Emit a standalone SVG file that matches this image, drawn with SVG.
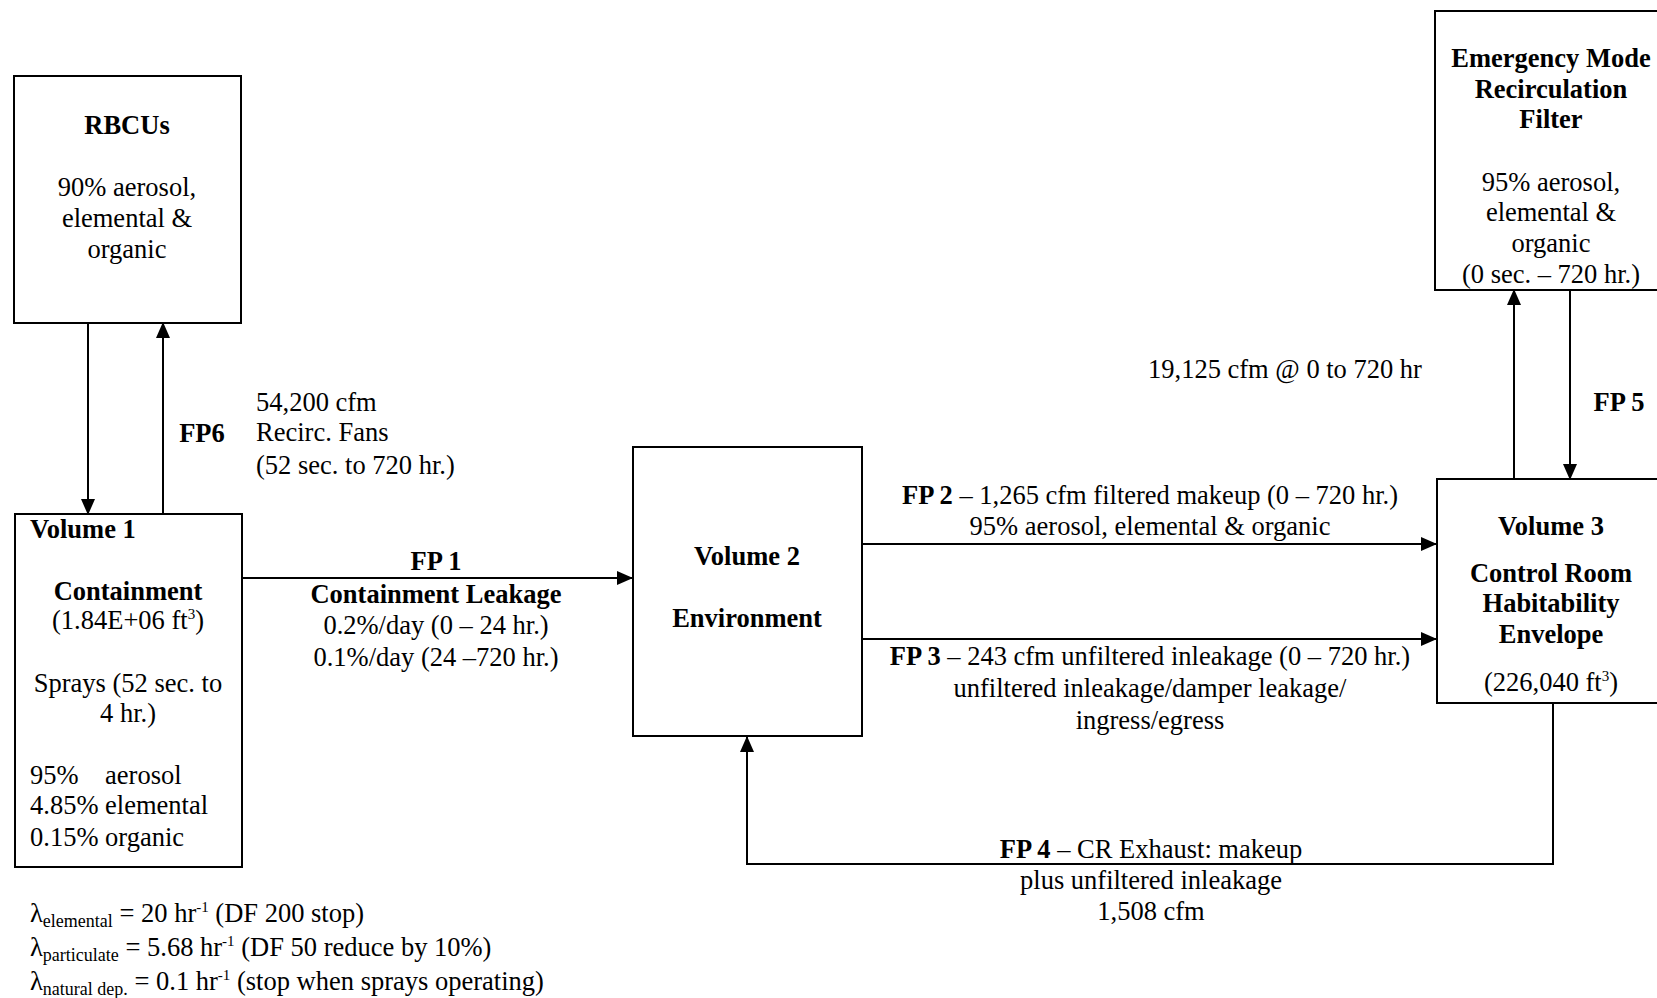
<svg xmlns="http://www.w3.org/2000/svg" width="1657" height="998" viewBox="0 0 1657 998">
<style>
text{font-family:"Liberation Serif","Times New Roman",serif;font-size:26.5px;fill:#000}
.b{font-weight:bold}
.c{text-anchor:middle}
.box{fill:none;stroke:#000;stroke-width:2}
.ln{fill:none;stroke:#000;stroke-width:2}
.sub{font-size:18px}
.sup{font-size:15px}
</style>
<defs>
<marker id="ah" markerWidth="16" markerHeight="14" refX="15" refY="7" orient="auto" markerUnits="userSpaceOnUse">
<path d="M0,0 L16,7 L0,14 Z" fill="#000"/>
</marker>
</defs>
<rect width="1657" height="998" fill="#fff"/>

<g id="rbcus">
<rect class="box" x="14" y="76" width="227" height="247"/>
<text class="b c" x="127" y="134">RBCUs</text>
<text class="c" x="127" y="196">90% aerosol,</text>
<text class="c" x="127" y="227">elemental &amp;</text>
<text class="c" x="127" y="258">organic</text>
</g>

<g id="volume1">
<rect class="box" x="15" y="514" width="227" height="353"/>
<text class="b" x="30" y="538">Volume 1</text>
<text class="b c" x="128" y="600">Containment</text>
<text class="c" x="128" y="629">(1.84E+06 ft<tspan class="sup" dy="-10">3</tspan><tspan dy="10">)</tspan></text>
<text class="c" x="128" y="692">Sprays (52 sec. to</text>
<text class="c" x="128" y="722">4 hr.)</text>
<text x="30" y="784" xml:space="preserve">95%    aerosol</text>
<text x="30" y="814">4.85% elemental</text>
<text x="30" y="846">0.15% organic</text>
</g>

<g id="lambda-notes">
<text x="30" y="922">λ<tspan class="sub" dy="5">elemental</tspan><tspan dy="-5"> = 20 hr</tspan><tspan class="sup" dy="-10">-1</tspan><tspan dy="10"> (DF 200 stop)</tspan></text>
<text x="30" y="956">λ<tspan class="sub" dy="5">particulate</tspan><tspan dy="-5"> = 5.68 hr</tspan><tspan class="sup" dy="-10">-1</tspan><tspan dy="10"> (DF 50 reduce by 10%)</tspan></text>
<text x="30" y="990">λ<tspan class="sub" dy="5">natural dep.</tspan><tspan dy="-5"> = 0.1 hr</tspan><tspan class="sup" dy="-10">-1</tspan><tspan dy="10"> (stop when sprays operating)</tspan></text>
</g>

<g id="volume2">
<rect class="box" x="633" y="447" width="229" height="289"/>
<text class="b c" x="747" y="565">Volume 2</text>
<text class="b c" x="747" y="627">Environment</text>
</g>

<g id="volume3">
<rect class="box" x="1437" y="479" width="225" height="224"/>
<text class="b c" x="1551" y="535">Volume 3</text>
<text class="b c" x="1551" y="582">Control Room</text>
<text class="b c" x="1551" y="612">Habitability</text>
<text class="b c" x="1551" y="643">Envelope</text>
<text class="c" x="1551" y="691">(226,040 ft<tspan class="sup" dy="-10">3</tspan><tspan dy="10">)</tspan></text>
</g>

<g id="emergency-filter">
<rect class="box" x="1435" y="11" width="227" height="279"/>
<text class="b c" x="1551" y="67">Emergency Mode</text>
<text class="b c" x="1551" y="98">Recirculation</text>
<text class="b c" x="1551" y="128">Filter</text>
<text class="c" x="1551" y="191">95% aerosol,</text>
<text class="c" x="1551" y="221">elemental &amp;</text>
<text class="c" x="1551" y="252">organic</text>
<text class="c" x="1551" y="283">(0 sec. – 720 hr.)</text>
</g>

<g id="connectors">
<line class="ln" x1="88" y1="323" x2="88" y2="514" marker-end="url(#ah)"/>
<line class="ln" x1="163" y1="514" x2="163" y2="323" marker-end="url(#ah)"/>
<line class="ln" x1="242" y1="578" x2="632" y2="578" marker-end="url(#ah)"/>
<line class="ln" x1="862" y1="544" x2="1436" y2="544" marker-end="url(#ah)"/>
<line class="ln" x1="862" y1="639" x2="1436" y2="639" marker-end="url(#ah)"/>
<polyline class="ln" points="1553,703 1553,864 747,864 747,737" marker-end="url(#ah)"/>
<line class="ln" x1="1514" y1="479" x2="1514" y2="290" marker-end="url(#ah)"/>
<line class="ln" x1="1570" y1="290" x2="1570" y2="479" marker-end="url(#ah)"/>
</g>

<g id="labels">
<text class="b c" x="202" y="442">FP6</text>
<text x="256" y="411">54,200 cfm</text>
<text x="256" y="441">Recirc. Fans</text>
<text x="256" y="474">(52 sec. to 720 hr.)</text>
<text class="b c" x="436" y="570">FP 1</text>
<text class="b c" x="436" y="603">Containment Leakage</text>
<text class="c" x="436" y="634">0.2%/day (0 – 24 hr.)</text>
<text class="c" x="436" y="666">0.1%/day (24 –720 hr.)</text>
<text class="c" x="1150" y="504"><tspan class="b">FP 2</tspan> – 1,265 cfm filtered makeup (0 – 720 hr.)</text>
<text class="c" x="1150" y="535">95% aerosol, elemental &amp; organic</text>
<text class="c" x="1150" y="665"><tspan class="b">FP 3</tspan> – 243 cfm unfiltered inleakage (0 – 720 hr.)</text>
<text class="c" x="1150" y="697">unfiltered inleakage/damper leakage/</text>
<text class="c" x="1150" y="729">ingress/egress</text>
<text class="c" x="1151" y="858"><tspan class="b">FP 4</tspan> – CR Exhaust: makeup</text>
<text class="c" x="1151" y="889">plus unfiltered inleakage</text>
<text class="c" x="1151" y="920">1,508 cfm</text>
<text class="b c" x="1619" y="411">FP 5</text>
<text class="c" x="1285" y="378">19,125 cfm @ 0 to 720 hr</text>
</g>
</svg>
